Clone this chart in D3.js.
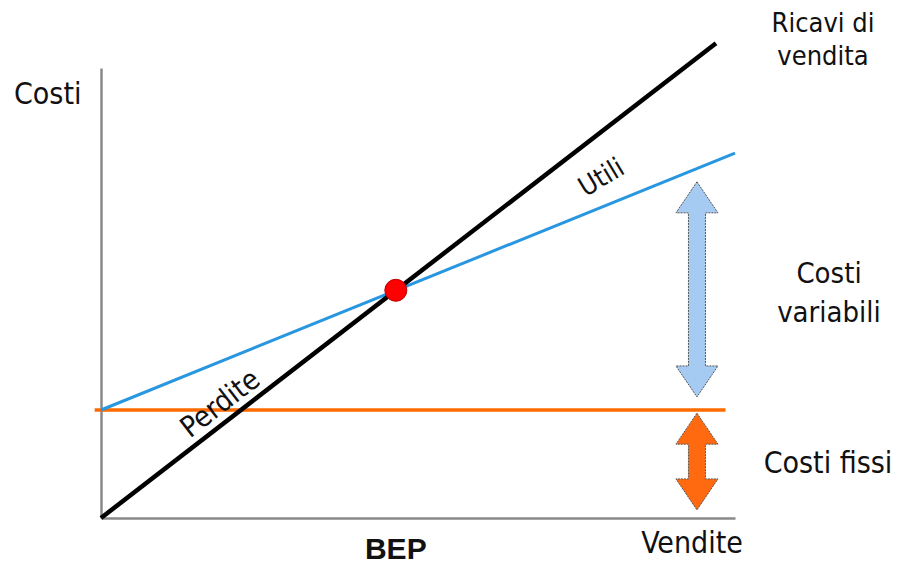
<!DOCTYPE html>
<html>
<head>
<meta charset="utf-8">
<script src="https://cdn.jsdelivr.net/npm/d3@7"></script>
<style>
  body { margin: 0; background: #fff; }
  text { font-family: "DejaVu Sans Condensed", "DejaVu Sans", sans-serif; fill: #111; }
</style>
</head>
<body>
<div id="chart"></div>
<script>
// break-even chart: sales on x, costs / revenue on y (arbitrary units)
var width = 899, height = 564;

var revenue = [[0, 0], [97, 105.5]];          // ricavi di vendita
var fixedCosts = [[-1, 24], [98.5, 24]];      // costi fissi
var totalCosts = [[0, 24], [100, 81.1]];      // costi fissi + variabili
var bep = [46.5, 50.6];
var arrowX = 94;
var varArrow = [26.9, 74.7];
var fixArrow = [1.8, 23.3];

var x = d3.scaleLinear().domain([0, 100]).range([101, 735]);
var y = d3.scaleLinear().domain([0, 100]).range([518, 68]);

var svg = d3.select('#chart').append('svg')
    .attr('width', width)
    .attr('height', height);

// axes without ticks
svg.append('g')
    .attr('transform', 'translate(0,' + y(0) + ')')
    .call(d3.axisBottom(x).tickValues([]).tickSizeOuter(0))
  .select('.domain')
    .attr('stroke', '#8a8a8a')
    .attr('stroke-width', 2.5);
svg.append('g')
    .attr('transform', 'translate(' + x(0) + ',0)')
    .call(d3.axisLeft(y).tickValues([]).tickSizeOuter(0))
  .select('.domain')
    .attr('stroke', '#8a8a8a')
    .attr('stroke-width', 2.5);

var line = d3.line()
    .x(function(d) { return x(d[0]); })
    .y(function(d) { return y(d[1]); });

svg.append('path').datum(fixedCosts)
    .attr('d', line)
    .attr('fill', 'none')
    .attr('stroke', '#ff6a00')
    .attr('stroke-width', 3.5);

svg.append('path').datum(totalCosts)
    .attr('d', line)
    .attr('fill', 'none')
    .attr('stroke', '#2996e0')
    .attr('stroke-width', 3);

svg.append('path').datum(revenue)
    .attr('d', line)
    .attr('fill', 'none')
    .attr('stroke', '#000')
    .attr('stroke-width', 4.5);

svg.append('circle')
    .attr('cx', x(bep[0]))
    .attr('cy', y(bep[1]))
    .attr('r', 11)
    .attr('fill', '#f00')
    .attr('stroke', '#b00')
    .attr('stroke-width', 1);

// double-headed block arrow, vertical
function doubleArrow(cx, yTop, yBot, fill) {
  var hw = 21, sw = 8.5, hl = 31;
  var p = d3.path();
  p.moveTo(cx, yTop);
  p.lineTo(cx + hw, yTop + hl);
  p.lineTo(cx + sw, yTop + hl);
  p.lineTo(cx + sw, yBot - hl);
  p.lineTo(cx + hw, yBot - hl);
  p.lineTo(cx, yBot);
  p.lineTo(cx - hw, yBot - hl);
  p.lineTo(cx - sw, yBot - hl);
  p.lineTo(cx - sw, yTop + hl);
  p.lineTo(cx - hw, yTop + hl);
  p.closePath();
  svg.append('path')
      .attr('d', p.toString())
      .attr('fill', fill)
      .attr('stroke', '#555')
      .attr('stroke-width', 1)
      .attr('stroke-dasharray', '2,1');
}
doubleArrow(x(arrowX), y(varArrow[1]), y(varArrow[0]), '#a6cbf3');
doubleArrow(x(arrowX), y(fixArrow[1]), y(fixArrow[0]), '#ff6a10');

// labels
function label(txt, px, py, size, anchor) {
  return svg.append('text')
      .attr('x', px).attr('y', py)
      .attr('font-size', size)
      .attr('text-anchor', anchor || 'start')
      .text(txt);
}
label('Costi', 14, 104, 30);
label('Ricavi di', 823, 32, 27, 'middle');
label('vendita', 823, 65, 27, 'middle');
label('Costi', 829, 283, 29, 'middle');
label('variabili', 829, 322, 29, 'middle');
label('Costi fissi', 828, 473, 30, 'middle');
label('Vendite', 692, 553, 30, 'middle');
label('BEP', x(bep[0]), 559, 30, 'middle')
    .style('font-family', '"Liberation Sans", Arial, sans-serif')
    .attr('font-weight', 'bold');

var ang = Math.atan2(y(revenue[0][1]) - y(revenue[1][1]), x(revenue[1][0]) - x(revenue[0][0])) * 180 / Math.PI;
label('Perdite', 226, 411, 29, 'middle')
    .attr('transform', 'rotate(' + (-ang) + ',226,411)');
label('Utili', 606, 185, 27, 'middle')
    .attr('transform', 'rotate(-31,606,185)');
</script>
</body>
</html>
